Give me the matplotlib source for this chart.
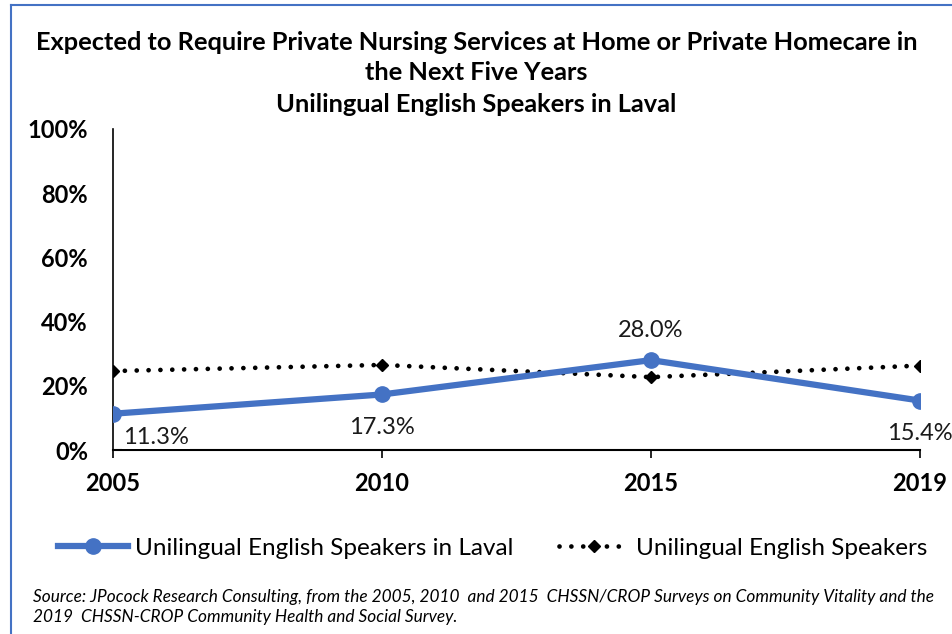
import matplotlib
matplotlib.use('Agg')
import matplotlib.pyplot as plt
from matplotlib.lines import Line2D

years = ['2005', '2010', '2015', '2019']
laval = [11.3, 17.3, 28.0, 15.4]
all_unilingual = [24.6, 26.5, 22.7, 26.3]
laval_labels = ['11.3%', '17.3%', '28.0%', '15.4%']
y_ticks = [0, 20, 40, 60, 80, 100]

title_lines = ['Expected to Require Private Nursing Services at Home or Private Homecare in',
               'the Next Five Years',
               'Unilingual English Speakers in Laval']
source = ('Source: JPocock Research Consulting, from the 2005, 2010  and 2015  CHSSN/CROP Surveys '
          'on Community Vitality and the\n2019  CHSSN-CROP Community Health and Social Survey.')

blue = '#4472C4'
plt.rcParams['font.family'] = ['Lato', 'DejaVu Sans']

fig = plt.figure(figsize=(9.53, 6.34), dpi=100)
ax = fig.add_axes([113 / 953, 1 - 450 / 634, (920 - 113) / 953, (450 - 129) / 634])

x = range(len(years))
dots = (0, (0.01, 2.5))
ax.plot(x, all_unilingual, color='black', lw=3.4, linestyle=dots,
        dash_capstyle='round', marker='D', ms=6.5, zorder=2)
ax.plot(x, laval, color=blue, lw=4.5, marker='o', ms=11, zorder=3)

offsets = [(10, -24), (0, -33), (0, 30), (0, -33)]
aligns = ['left', 'center', 'center', 'center']
for i, (lab, off, ha) in enumerate(zip(laval_labels, offsets, aligns)):
    ax.annotate(lab, (i, laval[i]), xytext=off, textcoords='offset pixels',
                ha=ha, va='center', fontsize=17, color='#1a1a1a', zorder=5,
                bbox=dict(facecolor='white', edgecolor='none', pad=0.5) if i == 0 else None)

ax.set_xlim(0, 3)
ax.set_ylim(0, 100)
ax.set_xticks(list(x))
ax.set_xticklabels(years, fontsize=17, fontweight='bold')
ax.set_yticks(y_ticks)
ax.set_yticklabels([f'{v}%' for v in y_ticks], fontsize=17, fontweight='bold')
ax.tick_params(axis='y', length=0, pad=18)
ax.tick_params(axis='x', length=6, width=1.2, direction='out', pad=10)
for s in ['top', 'right']:
    ax.spines[s].set_visible(False)
ax.spines['left'].set_linewidth(1.2)
ax.spines['bottom'].set_linewidth(1.5)
ax.spines['bottom'].set_zorder(1)

# title, one line at a time (Excel-like spacing)
for line, ypix in zip(title_lines, [42, 73, 105]):
    fig.text(0.5, 1 - ypix / 634, line, ha='center', va='center', fontsize=18.3,
             fontweight='bold')

handles = [Line2D([], [], color=blue, lw=4.5, marker='o', ms=11),
           Line2D([], [], color='black', lw=3.4, linestyle=dots,
                  dash_capstyle='round', marker='D', ms=6.5)]
fig.legend(handles, ['Unilingual English Speakers in Laval', 'Unilingual English Speakers'],
           loc='center', bbox_to_anchor=(0.517, 1 - 548 / 634), ncol=2, frameon=False,
           fontsize=17.5, handlelength=2.9, handletextpad=0.3, columnspacing=1.85)

fig.text(33 / 953, 1 - 607 / 634, source, ha='left', va='center', fontsize=12.4,
         style='italic', linespacing=1.35)

# blue frame on top and left
fig.add_artist(Line2D([11 / 953, 11 / 953], [0, 1 - 5 / 634], color=blue, lw=1.5,
                      transform=fig.transFigure))
fig.add_artist(Line2D([11 / 953, 1], [1 - 5 / 634, 1 - 5 / 634], color=blue, lw=1.5,
                      transform=fig.transFigure))

fig.savefig('out.png', dpi=100)
